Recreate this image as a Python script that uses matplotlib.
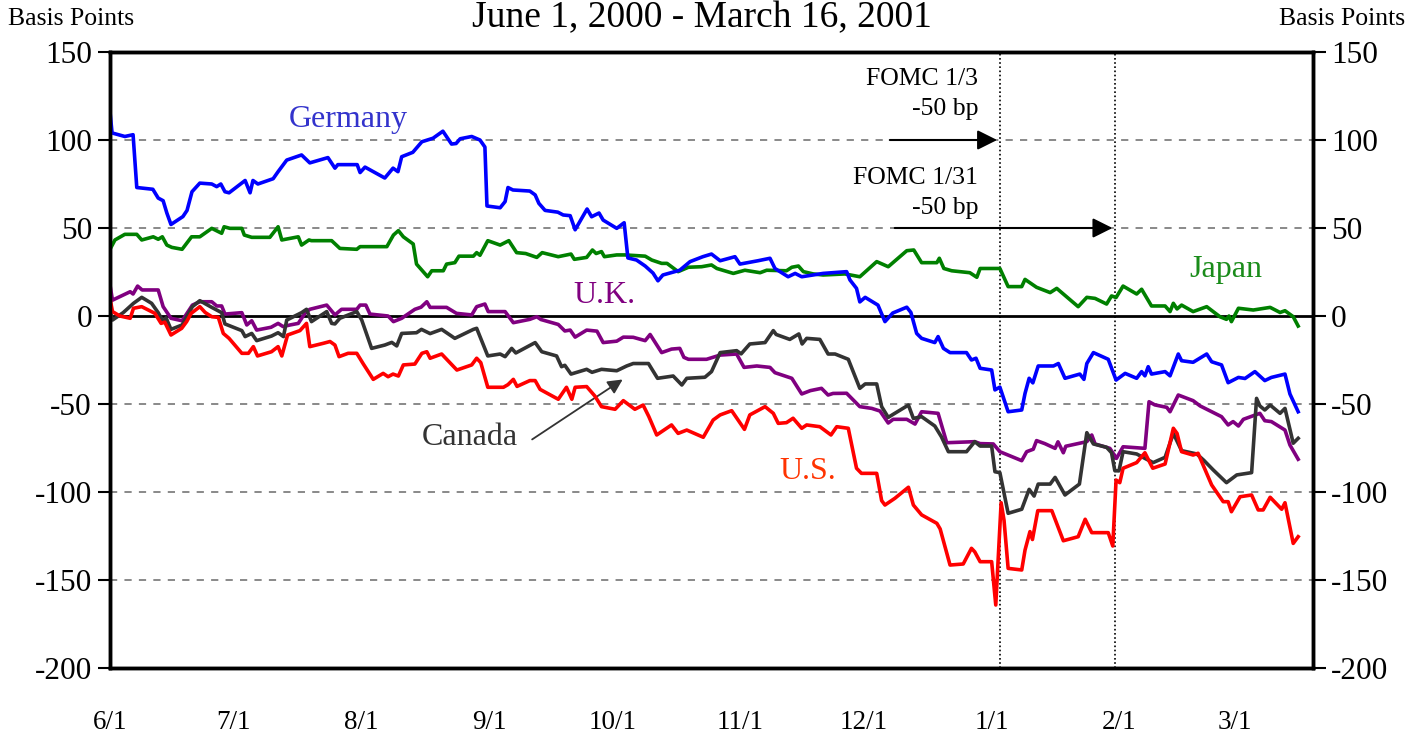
import numpy as np
import pandas as pd
import matplotlib
matplotlib.use("Agg")
import matplotlib.pyplot as plt
import matplotlib.dates as mdates

# ---------------- data (days since 2000-06-01, basis points) ----------------
START = pd.Timestamp("2000-06-01")

germany_days = [0, 0.5, 3.6, 5.6, 6.5, 10.4, 11.7, 12.9, 13.8, 14.8, 17.7, 18.7, 19.9, 21.8, 24.7, 25.9,
                26.9, 27.9, 28.9, 32.8, 34.0, 34.7, 35.9, 39.6, 40.8, 42.9, 46.5, 48.5, 52.9, 54.6, 55.3,
                60.0, 60.7, 61.9, 66.7, 68.7, 69.9, 70.8, 73.5, 75.7, 78.4, 80.8, 82.9, 84.0, 85.0, 87.8,
                89.8, 91.0, 91.5, 94.7, 95.9, 96.6, 97.8, 101.9, 103.2, 104.1, 105.6, 108.7, 110.0, 111.7,
                112.9, 115.8, 116.9, 118.7, 119.7, 123.0, 124.8, 125.7, 127.8, 129.9, 131.8, 133.0, 134.2,
                138.3, 140.8, 143.9, 146.0, 148.1, 151.7, 152.9, 157.3, 160.2, 161.4, 164.6, 166.3, 167.9,
                173.1, 178.8, 179.6, 181.2, 182.0, 183.3, 186.4, 188.1, 190.0, 193.4, 194.4, 195.8, 197.0,
                200.2, 201.0, 202.3, 203.9, 207.9, 209.1, 210.2, 211.2, 214.0, 214.8, 216.0, 218.0, 221.3,
                222.1, 223.1, 224.0, 225.3, 229.0, 230.2, 231.8, 235.4, 236.4, 237.1, 238.7, 242.3, 244.2,
                246.4, 249.2, 250.4, 251.2, 252.0, 252.8, 256.1, 257.3, 259.3, 260.1, 262.9, 266.2, 267.4,
                269.8, 271.4, 273.9, 275.5, 277.9, 280.3, 281.9, 285.2, 286.4, 288.4]
germany_bp = [116, 104, 102, 103, 73, 72, 67, 65.5, 58.5, 52, 56.5, 60, 70.6, 75.5, 75, 73.5,
              75, 70.6, 70, 77, 70, 77, 75, 78, 82, 88.6, 91.5, 87, 90, 84, 86,
              86, 81.5, 84.6, 78.4, 84, 82, 90.5, 93, 99, 101, 105, 97.7, 98, 100.7, 102,
              100, 96, 62.5, 61.5, 65, 73, 71.6, 71, 68.8, 64, 60, 59, 57.4, 57,
              49, 60.8, 56.4, 58.5, 54.5, 49.8, 53, 33, 31.8, 28.4, 24.4, 20, 23.3,
              26, 30.9, 33.7, 35.2, 31.4, 33.7, 29.5, 31.4, 32.8, 27, 22.3, 24.2, 22.3,
              24.2, 25.2, 20.5, 15.7, 8, 10.6, 6.2, -3.2, 1.7, 5, 2, -9.9, -12.7,
              -15.1, -11.7, -18.4, -20.8, -20.8, -25, -24, -29.7, -30.7, -42, -40.4, -54.4, -53.4,
              -44, -35.4, -38, -28.4, -28.4, -27, -35.4, -33, -36, -27, -20.8, -24.6, -36.4,
              -32.6, -35.4, -31.6, -34, -28.8, -33, -31.6, -34, -21.6, -25.4, -26.3, -21.6, -26,
              -27.8, -37.9, -34.9, -35.5, -31.6, -36.7, -34.9, -33, -44.3, -54.4]

japan_days = [0, 1.2, 3.6, 6.5, 7.7, 10.5, 11.7, 12.7, 13.8, 15.0, 17.5, 19.8, 21.8, 24.7, 27.1, 27.7,
              29.1, 32.0, 32.6, 34.4, 38.8, 40.8, 41.7, 45.7, 46.5, 48.3, 48.9, 53.8, 55.8, 59.9, 60.7,
              67.2, 68.8, 70.0, 71.2, 73.6, 74.4, 77.1, 78.1, 80.9, 81.7, 83.7, 84.7, 88.2, 89.0, 89.8,
              91.7, 94.7, 96.8, 98.7, 100.9, 103.6, 104.9, 108.8, 111.9, 112.7, 115.7, 117.1, 118.0,
              119.3, 120.0, 123.0, 125.0, 129.9, 131.5, 133.9, 135.2, 137.9, 140.4, 143.6, 146.0, 147.3,
              151.3, 154.1, 157.8, 159.4, 164.2, 165.5, 167.1, 168.3, 170.7, 173.1, 178.4, 182.0, 186.1,
              188.9, 193.4, 195.1, 197.0, 200.7, 201.3, 202.4, 204.3, 208.7, 210.4, 211.2, 216.0, 218.0,
              221.3, 222.1, 224.9, 228.2, 229.8, 235.0, 237.1, 239.1, 241.9, 243.1, 244.2, 245.9, 249.2,
              250.4, 252.8, 256.1, 257.3, 258.1, 259.0, 260.1, 262.9, 266.2, 269.4, 271.0, 271.6, 272.2,
              273.9, 277.5, 281.6, 284.0, 285.2, 287.2, 288.4]
japan_bp = [37.9, 43.2, 46.4, 46.4, 43.2, 45, 43.6, 45, 40.3, 39, 37.9, 45, 45, 49.8, 47, 50.7,
            49.8, 49.8, 46, 44.7, 44.7, 50.7, 43.2, 45, 40.3, 43.2, 42.8, 42.8, 38.4, 37.9, 39.4,
            39.4, 46, 48.5, 45, 40.9, 29.5, 22.3, 25.7, 25.7, 29.5, 30.3, 34, 34, 36, 34.5,
            42.8, 40.3, 42.8, 36, 35.5, 33.3, 36, 33.7, 35.2, 32.2, 33.3, 37.5, 35.5,
            36.6, 33.7, 34.7, 34.7, 34, 31.8, 29.9, 29.9, 25.2, 27.7, 28, 29, 27,
            24.2, 26, 24.6, 26, 25.7, 27.7, 28.4, 25.2, 23.9, 23.3, 23.9, 22.3, 30.9,
            28, 37.1, 37.5, 30.3, 30.3, 32.8, 27, 25.7, 24.6, 22, 27, 27, 16.7,
            16.7, 20.8, 16.3, 13.3, 15.7, 5.3, 10.6, 10, 6.8, 11.4, 10.5, 17, 12.5,
            15.2, 5.7, 5.7, 2.5, 7.2, 4, 6.2, 2.5, 5.3, -0.4, -1.9, 0, -3.2,
            4.4, 3.4, 4.9, 2, 3, -0.4, -5.7]

uk_days = [0, 0.6, 4.9, 5.6, 6.7, 7.8, 11.7, 12.9, 14.8, 17.5, 20.0, 21.8, 24.7, 25.9, 27.1, 27.9,
           32.0, 33.2, 34.4, 35.6, 39.1, 40.8, 42.0, 43.7, 45.7, 47.3, 48.5, 52.6, 54.6, 56.2, 59.9,
           60.7, 62.1, 63.1, 67.5, 68.8, 70.8, 74.0, 75.5, 76.9, 77.7, 81.7, 84.1, 87.8, 89.0, 91.0,
           91.8, 95.9, 97.9, 101.9, 103.6, 104.6, 108.8, 110.4, 111.7, 112.9, 115.7, 118.2, 119.7,
           123.0, 124.6, 127.0, 129.9, 131.1, 133.9, 136.3, 138.3, 139.3, 140.4, 144.8, 148.1, 152.1,
           153.9, 157.0, 160.2, 161.4, 165.5, 167.9, 170.0, 172.7, 174.3, 175.5, 178.8, 182.0, 184.9,
           186.9, 188.9, 190.1, 193.4, 195.4, 197.0, 201.0, 203.1, 209.9, 211.2, 214.4, 216.0, 219.3,
           221.3, 222.5, 224.1, 224.9, 226.9, 229.4, 230.1, 231.4, 232.0, 237.1, 238.3, 239.1, 242.7,
           244.3, 245.9, 251.2, 252.2, 253.6, 256.5, 257.3, 259.3, 262.9, 264.6, 269.8, 271.4, 272.6,
           273.9, 275.1, 279.1, 280.3, 281.9, 285.2, 286.4, 288.4]
uk_bp = [17.6, 9, 13.8, 12.5, 17, 14.8, 14.8, 5.3, -1.3, -2.7, 6.2, 8.1, 8.1, 5.7, 5.7, 1.1,
         1.9, -5.1, -2.7, -8, -6.4, -4.2, -6, -5.1, -4.2, 1.5, 3.8, 6.2, 0.6, 3.8, 3.8,
         6.2, 6.2, 1.1, 0, -3.2, -1.3, 3.8, 5, 8.1, 4.9, 4.9, 1.5, 0.6, 5.3, 6.8,
         2.5, 2.5, -3.8, -1.9, -0.4, -2, -4.8, -8.5, -8, -12, -8, -8.6, -15.1,
         -14.3, -12, -12.1, -14, -10.5, -20.8, -18.8, -18.4, -23.5, -24.6, -24.6, -22.2, -21.6,
         -29.2, -28.4, -29.2, -32.2, -35.4, -44.3, -42.4, -41.1, -44.9, -44, -43.9, -51.5, -52.5,
         -54, -60.8, -58.7, -58.7, -61.4, -54.4, -55.3, -72, -71.4, -72.5, -72.7, -77.1, -80.3,
         -82.2, -77.1, -75.7, -70.8, -72.5, -75.2, -71.5, -77.7, -74, -71.4, -67.6, -72.7, -75.2,
         -80.9, -74.3, -75.2, -48.7, -50.5, -51.9, -54.4, -44.9, -48.1, -51.1, -57.2, -61.9, -60,
         -62.5, -58.7, -55.3, -59.5, -60, -64.8, -73.3, -81.4]

canada_days = [0, 0.6, 3.2, 5.7, 7.7, 10.1, 11.7, 12.9, 13.6, 14.8, 17.5, 20.0, 21.8, 24.7, 25.9,
               27.1, 27.9, 32.0, 32.8, 34.4, 35.6, 39.2, 40.8, 42.1, 42.9, 46.5, 47.7, 48.9, 52.6,
               53.8, 54.6, 55.8, 59.9, 61.1, 63.5, 66.7, 68.4, 69.6, 70.8, 74.4, 75.6, 77.7, 80.5,
               83.7, 88.2, 89.0, 91.7, 94.7, 95.9, 97.5, 98.5, 103.2, 104.8, 108.4, 109.6, 110.4,
               111.9, 115.7, 117.0, 119.3, 123.0, 125.4, 127.0, 130.7, 132.9, 136.7, 138.8, 140.0,
               144.4, 146.0, 148.1, 152.1, 153.2, 155.3, 159.0, 161.0, 161.7, 165.0, 167.2, 168.0,
               169.1, 172.3, 174.3, 176.0, 179.2, 182.0, 183.3, 186.1, 187.3, 188.9, 190.0, 193.8,
               195.0, 197.0, 200.2, 201.8, 203.5, 207.9, 209.9, 211.2, 214.0, 214.8, 216.0, 218.0,
               221.3, 223.1, 224.3, 225.3, 228.2, 229.4, 231.8, 235.3, 237.1, 238.7, 241.9, 243.1,
               243.9, 244.9, 245.9, 249.2, 251.2, 253.2, 256.1, 258.1, 260.1, 263.8, 265.5, 267.8,
               271.0, 273.5, 277.1, 278.3, 279.1, 280.3, 281.6, 284.0, 285.2, 287.2, 288.4]
canada_bp = [3, -2.3, 1.9, 7.2, 10.6, 7.2, 1.9, -3.2, -1, -7.6, -5.1, 5.3, 8.7, 4.9, 3.4,
             1.9, -4.5, -8.3, -11.7, -9.9, -14, -11.4, -9.5, -11.7, -2.3, 1.9, 3.8, -3.2, 2.5,
             -4.2, -4.5, -1.3, 2.5, -2.3, -18.4, -16.5, -15, -17, -9.9, -9.5, -7.6, -10, -7.6,
             -12.7, -7.6, -7, -22.7, -21.6, -23.1, -18.4, -21, -15.1, -20.3, -22.7, -28.8, -28,
             -33, -30.3, -32, -30.3, -31.1, -28.4, -27, -27, -35.4, -34.1, -39.2, -35.4,
             -34.8, -31.6, -20.8, -19.7, -21.5, -15.9, -15.1, -8.3, -10.5, -13.3, -10.2, -15.9,
             -12.7, -13.3, -21.6, -21.6, -24.6, -41.1, -38.6, -38.6, -51.5, -57.6, -56, -50.6,
             -58.2, -57.2, -62.5, -68.6, -77.1, -77.1, -71.4, -73.9, -73.9, -88.5, -89, -112.1,
             -109.8, -98.5, -102.3, -95.5, -95.5, -91.7, -101.7, -95.5, -66.3, -72.7, -74.6, -77.7,
             -87.9, -88, -77.1, -78.4, -80.9, -83.3, -80.3, -66.7, -76.5, -78.4, -82, -87.5,
             -94.7, -90.3, -89, -46.8, -51.1, -53.4, -50.6, -55.3, -52.5, -72.3, -69.5]

us_days = [0, 0.6, 2.4, 4.9, 5.7, 7.7, 10.9, 12.4, 13.3, 14.8, 17.4, 18.6, 19.7, 21.8, 23.1, 24.7,
           26.3, 27.5, 28.9, 32.0, 33.6, 34.8, 35.8, 39.2, 40.8, 41.7, 43.1, 46.1, 47.7, 48.5, 51.8,
           53.4, 54.6, 55.6, 57.8, 59.9, 61.5, 63.9, 66.3, 67.5, 68.7, 70.0, 71.2, 74.0, 75.7, 76.9,
           77.7, 80.5, 84.2, 87.8, 89.0, 90.0, 91.7, 95.5, 96.6, 97.9, 98.8, 101.9, 103.2, 104.4,
           108.8, 110.8, 112.1, 112.9, 115.7, 117.7, 119.3, 122.6, 124.6, 127.4, 129.4, 130.8, 132.7,
           136.3, 137.9, 140.0, 144.0, 146.4, 148.1, 150.9, 154.0, 155.3, 159.0, 161.0, 162.2, 164.2,
           165.8, 167.9, 169.1, 172.3, 175.0, 176.4, 179.2, 181.2, 182.4, 186.1, 187.3, 188.1, 190.5,
           193.8, 195.0, 197.0, 200.7, 201.5, 203.9, 207.1, 209.1, 209.9, 211.2, 214.0, 215.0, 216.3,
           217.0, 218.0, 221.3, 222.1, 223.3, 223.9, 225.2, 228.6, 231.4, 235.0, 236.7, 238.3, 242.3,
           243.4, 244.2, 245.1, 245.9, 249.2, 251.2, 251.9, 253.1, 256.1, 258.1, 259.0, 260.1, 262.9,
           264.1, 267.4, 270.2, 271.4, 272.2, 274.3, 277.1, 278.7, 279.9, 281.6, 284.4, 285.2, 287.2,
           288.4]
us_bp = [10, 2.5, 0, -1.3, 4.4, 5.3, 1.5, -4.2, -3.5, -10.8, -7, -3.2, 1.5, 5.3, 2, -0.4,
         -0.8, -9.9, -12.7, -21.2, -21.2, -17.4, -22.7, -20.3, -17.4, -22.7, -10.8, -8.3, -4.2, -17.4, -15.5,
         -14.5, -16.5, -23.1, -21.2, -21.2, -27.3, -36, -32.6, -34.5, -33, -34.1, -27.8, -27.3, -21.2, -20.3,
         -24, -21.6, -30.7, -27.8, -24, -26.5, -40.5, -40.5, -39, -36, -40, -36.7, -36.7, -41.7,
         -47.3, -40.5, -47.3, -40.5, -40.1, -45.5, -51.5, -53, -48.1, -53, -50.6, -57.2, -67.6,
         -61.9, -66.7, -64.8, -68.9, -59.1, -56.2, -53.8, -64.4, -56.2, -51.5, -55.3, -61, -60.6,
         -58.1, -63.8, -61.9, -62.9, -67.6, -62.9, -63.8, -86.5, -89.4, -89.4, -104.9, -107.4, -103.6,
         -97.3, -107.4, -113, -117.8, -121, -141.5, -140.9, -132, -134, -139.6, -139.6, -164.2, -106.1,
         -116, -143.4, -144.3, -133, -122.5, -127, -110.6, -110.6, -127.7, -125.4, -115.5, -123.1, -123.1,
         -130.7, -93.2, -94.7, -86.5, -83.3, -77.7, -81, -86.5, -84.1, -63.8, -66.7, -77.1, -79,
         -78, -96, -105.5, -105.5, -111.2, -102.7, -101.7, -110.2, -110.2, -103, -109.8, -106.1, -129.2,
         -125.4]

month_ticks = ["2000-06-01", "2000-07-01", "2000-08-01", "2000-09-01", "2000-10-01", "2000-11-01",
               "2000-12-01", "2001-01-01", "2001-02-01", "2001-03-01"]
month_labels = ["6/1", "7/1", "8/1", "9/1", "10/1", "11/1", "12/1", "1/1", "2/1", "3/1"]
y_ticks = [150, 100, 50, 0, -50, -100, -150, -200]
grid_levels = [100, 50, -50, -100, -150]
fomc_dates = ["2001-01-03", "2001-01-31"]
fomc_labels = ["FOMC 1/3\n-50 bp", "FOMC 1/31\n-50 bp"]


def to_dates(days):
    return START + pd.to_timedelta(np.asarray(days, dtype=float), unit="D")


def D(d):
    return mdates.date2num(START + pd.Timedelta(days=d))


plt.rcParams["font.family"] = ["Liberation Serif", "DejaVu Serif"]
plt.rcParams["axes.unicode_minus"] = False

fig = plt.figure(figsize=(14.12, 7.34), dpi=100)
ax = fig.add_axes([110 / 1412, 1 - 668 / 734, (1313 - 110) / 1412, (668 - 52) / 734])

x0 = mdates.date2num(START)
x1 = D(292)
ax.set_xlim(x0, x1)
ax.set_ylim(-200, 150)

# grid
for g in grid_levels:
    ax.axhline(g, color="#808080", lw=1.3, ls=(0, (4, 4)), zorder=1)
ax.axhline(0, color="black", lw=2, zorder=2)
for fd in fomc_dates:
    ax.axvline(pd.Timestamp(fd), color="black", lw=1.2, ls=(0, (1, 1.5)), zorder=1)

lw = 2.6
ax.plot(to_dates(germany_days), germany_bp, color="#0000ff", lw=lw, zorder=5)
ax.plot(to_dates(japan_days), japan_bp, color="#008000", lw=lw, zorder=4)
ax.plot(to_dates(uk_days), uk_bp, color="#800080", lw=lw, zorder=4)
ax.plot(to_dates(canada_days), canada_bp, color="#333333", lw=lw, zorder=4)
ax.plot(to_dates(us_days), us_bp, color="#ff0000", lw=lw, zorder=4)

# axes style
for s in ax.spines.values():
    s.set_linewidth(2.5)
ax.set_yticks(y_ticks)
ax.tick_params(axis="y", direction="out", length=9, width=1.5, labelsize=22.5, pad=4)
ax.set_xticks([pd.Timestamp(m) for m in month_ticks])
ax.set_xticklabels(month_labels)
ax.tick_params(axis="x", direction="out", length=0, labelsize=19.5, pad=30)

ax2 = ax.twinx()
ax2.set_ylim(-200, 150)
ax2.set_yticks(y_ticks)
ax2.tick_params(axis="y", direction="out", length=9, width=1.5, labelsize=22.5, pad=4)
for s in ax2.spines.values():
    s.set_linewidth(2.5)

# titles
fig.text(702 / 1412, 1 - 18 / 734, "June 1, 2000 - March 16, 2001", ha="center", va="center", fontsize=27)
fig.text(8 / 1412, 1 - 19 / 734, "Basis Points", ha="left", va="center", fontsize=18.5)
fig.text(1405 / 1412, 1 - 19 / 734, "Basis Points", ha="right", va="center", fontsize=18.5)

# series labels
ax.text(D(57.8), 111.4, "Germany", color="#3333cc", fontsize=23, ha="center", va="center")
ax.text(D(119.9), 11.4, "U.K.", color="#800080", fontsize=23, ha="center", va="center")
ax.text(D(270.9), 26.7, "Japan", color="#1a8c1a", fontsize=23, ha="center", va="center")
ax.text(D(169.4), -88.6, "U.S.", color="#ff3300", fontsize=23, ha="center", va="center")
ax.text(D(87.4), -69.3, "Canada", color="#333333", fontsize=23, ha="center", va="center")
ax.annotate("", xy=(D(125.0), -35.2), xytext=(D(101.9), -71),
            arrowprops=dict(arrowstyle="-|>", color="#333333", lw=1.3, mutation_scale=22))

# FOMC annotations
ax.text(D(210.7), 126, fomc_labels[0], fontsize=18.5, ha="right", va="center", linespacing=1.5)
ax.text(D(210.7), 70, fomc_labels[1], fontsize=18.5, ha="right", va="center", linespacing=1.5)
ax.annotate("", xy=(pd.Timestamp(fomc_dates[0]), 100), xytext=(D(188.6), 100),
            arrowprops=dict(arrowstyle="-|>", color="black", lw=1.5, mutation_scale=30))
ax.annotate("", xy=(pd.Timestamp(fomc_dates[1]), 50), xytext=(D(189.8), 50),
            arrowprops=dict(arrowstyle="-|>", color="black", lw=1.5, mutation_scale=30))

fig.savefig("out.png", dpi=100)
